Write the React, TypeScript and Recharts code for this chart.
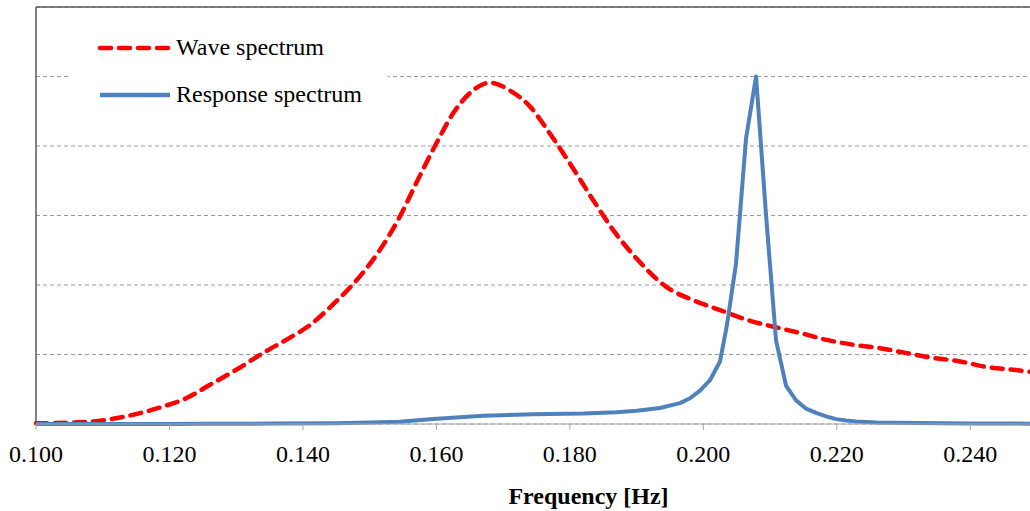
import { LineChart, Line, XAxis, YAxis, CartesianGrid, Legend, ReferenceLine } from "recharts";

// wave spectrum (red dashed)
const waveFreq = [
  0.1, 0.1075, 0.1124, 0.119, 0.1225, 0.126, 0.13, 0.134, 0.138, 0.141, 0.1445, 0.1485, 0.1515,
  0.1545, 0.157, 0.16, 0.1625, 0.165, 0.168, 0.171, 0.174, 0.177, 0.18, 0.1835, 0.1865, 0.19,
  0.1945, 0.1985, 0.2025, 0.2065, 0.2105, 0.2145, 0.2185, 0.2225, 0.2265, 0.2305, 0.2345, 0.2385,
  0.2425, 0.2465, 0.25,
];
const waveVals = [
  0.01, 0.03, 0.09, 0.25, 0.37, 0.56, 0.78, 1.02, 1.24, 1.42, 1.72, 2.12, 2.5,
  2.98, 3.47, 4.04, 4.47, 4.76, 4.91, 4.8, 4.57, 4.18, 3.75, 3.22, 2.79, 2.38,
  1.97, 1.78, 1.64, 1.5, 1.4, 1.31, 1.21, 1.14, 1.09, 1.02, 0.95, 0.9,
  0.82, 0.78, 0.74,
];

// response spectrum (blue)
const respFreq = [
  0.1, 0.11, 0.12, 0.125, 0.135, 0.145, 0.15, 0.1545, 0.1595, 0.167, 0.1745, 0.182, 0.187, 0.19,
  0.1935, 0.1965, 0.198, 0.1995, 0.201, 0.2025, 0.2035, 0.2049, 0.2064, 0.2079, 0.2094, 0.2109,
  0.2124, 0.2139, 0.2154, 0.2169, 0.2184, 0.2199, 0.2214, 0.2229, 0.226, 0.232, 0.24, 0.25,
];
const respVals = [
  0, 0, 0, 0.003, 0.006, 0.012, 0.02, 0.033, 0.072, 0.12, 0.14, 0.15, 0.17, 0.19,
  0.23, 0.3, 0.37, 0.48, 0.63, 0.9, 1.4, 2.31, 4.11, 5.0, 3.0, 1.2,
  0.55, 0.34, 0.22, 0.16, 0.11, 0.07, 0.05, 0.035, 0.02, 0.015, 0.008, 0.005,
];

const xTicks = [0.1, 0.12, 0.14, 0.16, 0.18, 0.2, 0.22, 0.24];
const yTicks = [0, 1, 2, 3, 4, 5, 6];

const waveData = waveFreq.map((f, i) => ({ f, v: waveVals[i] }));
const respData = respFreq.map((f, i) => ({ f, v: respVals[i] }));

const serif = "'Liberation Serif', 'Times New Roman', serif";

function LegendBox() {
  const rows = [
    { name: "Wave spectrum", color: "#ff0000", dash: "11 8" },
    { name: "Response spectrum", color: "#4f81bd", dash: undefined },
  ];
  return (
    <div style={{ background: "#fff", width: 318, height: 96 }}>
      {rows.map((r) => (
        <div key={r.name} style={{ display: "flex", alignItems: "center", height: 47 }}>
          <svg width={106} height={10} style={{ flex: "none" }}>
            <line x1={30} x2={100} y1={5} y2={5} stroke={r.color} strokeWidth={4.5}
              strokeDasharray={r.dash} strokeLinecap={r.dash ? "round" : "butt"} />
          </svg>
          <span style={{ fontFamily: serif, fontSize: 24, color: "#000" }}>{r.name}</span>
        </div>
      ))}
    </div>
  );
}

export default function App() {
  return (
    <div style={{ position: "absolute", left: 0, top: 0, width: 1030, height: 511, overflow: "hidden", background: "#fff" }}>
      <LineChart width={1045} height={511} margin={{ top: 7, right: 8, bottom: 7, left: 36 }}>
        <CartesianGrid vertical={false} stroke="#9a9a9a" strokeDasharray="4 3" />
        <XAxis
          dataKey="f"
          type="number"
          domain={[0.1, 0.25]}
          ticks={xTicks}
          allowDuplicatedCategory={false}
          tickFormatter={(v: number) => v.toFixed(3)}
          stroke="#a6a6a6"
          tickSize={6}
          tickMargin={15}
          height={80}
          tick={{ fill: "#000", fontFamily: serif, fontSize: 24 }}
          label={{ value: "Frequency [Hz]", position: "insideBottom", offset: 0, dx: 52, fill: "#000", fontFamily: serif, fontSize: 24, fontWeight: "bold" }}
        />
        <YAxis hide type="number" domain={[0, 6]} ticks={yTicks} />
        <ReferenceLine y={6} stroke="#595959" strokeWidth={1.5} />
        <ReferenceLine x={0.1} stroke="#595959" strokeWidth={1.5} />
        <Legend
          layout="vertical"
          align="center"
          verticalAlign="middle"
          wrapperStyle={{ left: 70, top: 24, width: 318, height: 96 }}
          content={() => <LegendBox />}
        />
        <Line data={waveData} dataKey="v" name="Wave spectrum" type="monotone" stroke="#ff0000" strokeWidth={4.5}
          strokeDasharray="11 8" strokeLinecap="round" dot={false} isAnimationActive={false} />
        <Line data={respData} dataKey="v" name="Response spectrum" type="linear" stroke="#4f81bd" strokeWidth={4}
          strokeLinejoin="round" dot={false} isAnimationActive={false} />
      </LineChart>
    </div>
  );
}
